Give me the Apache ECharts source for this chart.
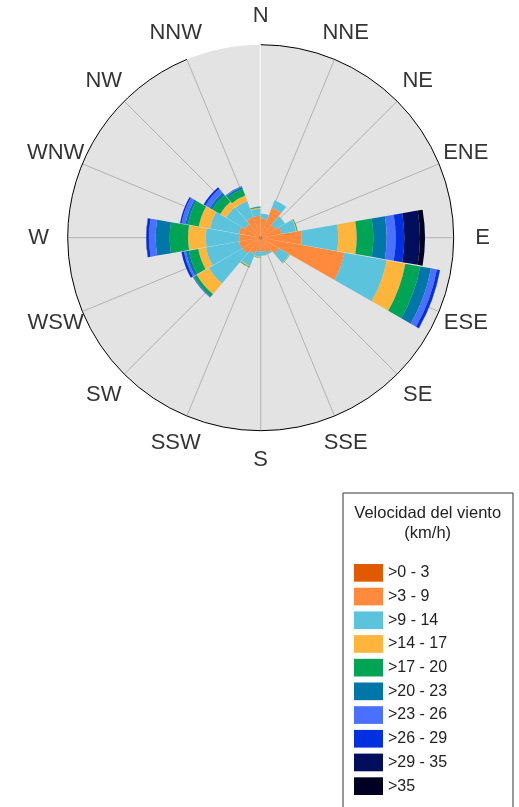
<!DOCTYPE html>
<html><head><meta charset="utf-8">
<script src="https://cdn.jsdelivr.net/npm/echarts@6/dist/echarts.min.js"></script>
<style>html,body{margin:0;padding:0;background:#fff}#c{width:519px;height:807px}</style>
</head><body><div id="c"></div>
<script>
// Compass tick labels (16 points, every 22.5°)
const compassLabels = ['N','NNE','NE','ENE','E','ESE','SE','SSE','S','SSW','SW','WSW','W','WNW','NW','NNW'];
// Direction bins of the bars (20° sectors, centred at)
const directionBins = ['10°','30°','50°','70°','90°','110°','130°','150°','170°','190°','210°','230°','250°','270°','290°','310°','330°','350°'];
// Speed classes (legend)
const speedClasses = ['>0 - 3','>3 - 9','>9 - 14','>14 - 17','>17 - 20','>20 - 23','>23 - 26','>26 - 29','>29 - 35','>35'];
const legendTitle = 'Velocidad del viento\n(km/h)';
const classColors = ['#e25a00','#ff8a3d','#5bc4dc','#ffb43c','#00a455','#0077a6','#4a70ff','#0030e0','#000e5c','#000022'];
const radiusMax = 19.3;

// Frequencies per speed class, one value per direction bin
const speed0_3   = [0.2,0.2,0.2,0.2,0.2,0.2,0.2,0.2,0.2,0.2,0.2,0.2,0.2,0.2,0.2,0.2,0.2,0.2];
const speed3_9   = [1.7,3.0,1.5,1.9,3.9,8.3,1.9,1.4,1.2,1.2,1.5,1.9,2.0,1.9,2.0,1.6,2.0,2.0];
const speed9_14  = [0.5,0.8,1.1,1.5,3.66,4.3,1.2,0.2,0.4,0.5,1.3,3.9,3.37,3.4,2.95,2.2,1.7,0.7];
const speed14_17 = [0,0,0.03,0.08,1.84,1.9,0.05,0,0.03,0.06,0.1,1.4,0.78,1.77,1.15,0.7,0.6,0.1];
const speed17_20 = [0,0,0,0.06,1.66,1.5,0.03,0,0,0.03,0.05,0.3,0.95,1.83,1.1,0.9,0.7,0.08];
const speed20_23 = [0,0,0,0.02,1.34,1.1,0,0,0,0,0.03,0.08,0.3,1.4,0.25,0.3,0.2,0.03];
const speed23_26 = [0,0,0,0,0.9,0.6,0,0,0,0,0,0.03,0.2,0.67,0.4,0.5,0.07,0];
const speed26_29 = [0,0,0,0,0.86,0.3,0,0,0,0,0,0.03,0.25,0.26,0.15,0.2,0.03,0];
const speed29_35 = [0,0,0,0,1.57,0.03,0,0,0,0,0,0,0,0.03,0,0,0,0];
const speed35    = [0,0,0,0,0.5,0,0,0,0,0,0,0,0,0,0,0,0,0];
const classValues = [speed0_3,speed3_9,speed9_14,speed14_17,speed17_20,speed20_23,speed23_26,speed26_29,speed29_35,speed35];

const FONT = 'Liberation Sans, Arial, Helvetica, sans-serif';
const chart = echarts.init(document.getElementById('c'), null, {renderer:'canvas'});
const hidden = {axisLine:{show:false},axisTick:{show:false},axisLabel:{show:false},splitLine:{show:false},splitArea:{show:false}};

const barSeries = classValues.map((vals,i)=>({
  type:'bar', name:speedClasses[i], coordinateSystem:'polar', polarIndex:1,
  stack:'wind', data:vals, barCategoryGap:'2%',
  itemStyle:{color:classColors[i]}, z:2
}));

chart.setOption({
  animation:false,
  textStyle:{fontFamily:FONT},
  polar:[
    {center:[260.7,237.7], radius:193},
    {center:[260.7,237.7], radius:193},
    {center:[260.7,237.7], radius:222}
  ],
  angleAxis:[
    {polarIndex:0, type:'category', data:compassLabels, boundaryGap:false, startAngle:90, clockwise:true, z:1,
     axisLine:{show:true,lineStyle:{color:'#000',width:1}}, axisTick:{show:false}, axisLabel:{show:false},
     splitLine:{show:true,lineStyle:{color:'#a6a6a6',width:0.8}}, splitArea:{show:false}},
    Object.assign({polarIndex:1, type:'category', data:directionBins, startAngle:90, clockwise:true}, hidden),
    Object.assign({polarIndex:2, type:'category', data:compassLabels, boundaryGap:false, startAngle:90, clockwise:true}, hidden)
  ],
  radiusAxis:[
    {polarIndex:0, type:'value', min:0, max:radiusMax, interval:radiusMax, z:0,
     axisLine:{show:false}, axisTick:{show:false}, axisLabel:{show:false}, splitLine:{show:false},
     splitArea:{show:true, areaStyle:{color:['#e3e3e3']}}},
    Object.assign({polarIndex:1, type:'value', min:0, max:radiusMax, z:1}, hidden, {axisLine:{show:true,lineStyle:{color:'#ffffff',width:1.2}}}),
    Object.assign({polarIndex:2, type:'value', min:0, max:1}, hidden)
  ],
  legend:{
    orient:'vertical', left:354, top:564, padding:0, itemWidth:29, itemHeight:17.7, itemGap:6,
    icon:'rect', data:speedClasses, selectedMode:false,
    textStyle:{fontSize:16, color:'#222', fontFamily:FONT}
  },
  graphic:[
    {type:'rect', left:342.5, top:492.5, shape:{width:170, height:330}, style:{fill:'#fff', stroke:'#333', lineWidth:1}, z:-1, silent:true},
    {type:'text', x:427.7, y:503.5, style:{text:legendTitle, align:'center', verticalAlign:'top', font:'16.5px '+FONT, fill:'#222', lineHeight:20}, silent:true}
  ],
  series: barSeries.concat([{
    type:'scatter', coordinateSystem:'polar', polarIndex:2, symbolSize:0, silent:true, z:5,
    data: compassLabels.map((c,i)=>[1,i]),
    label:{show:true, position:'inside', formatter:p=>compassLabels[p.value[1]], fontSize:22, color:'#000', fontFamily:FONT}
  }])
});
</script></body></html>
